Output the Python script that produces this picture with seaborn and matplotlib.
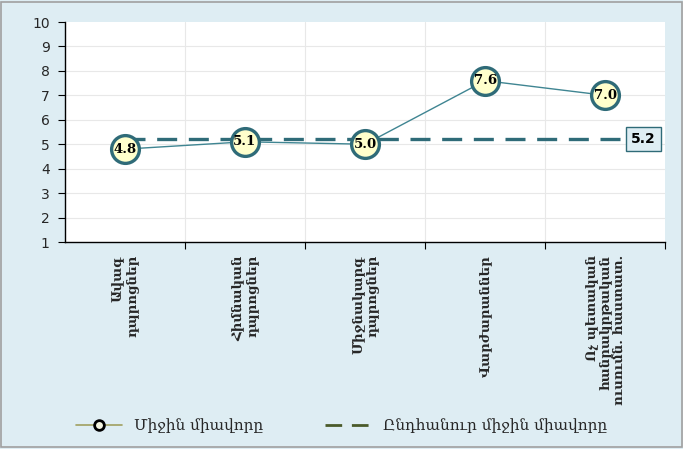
import pandas as pd
import matplotlib
matplotlib.use("Agg")
import matplotlib.pyplot as plt
import seaborn as sns

# --- Data ---
categories = [
    "Ավագ\nդպրոցներ",
    "Հիմնական\nդպրոցներ",
    "Միջնակարգ\nդպրոցներ",
    "Վարժարաններ",
    "Ոչ պետական\nհանրակրթական\nուսումն. հաստատ.",
]
mean_scores = [4.8, 5.1, 5.0, 7.6, 7.0]
overall_mean = 5.2
series_label = "Միջին միավորը"
overall_label = "Ընդհանուր միջին միավորը"

BG = "#deedf3"
TEAL = "#2f6b78"
LINE = "#3f8592"
FILL = "#ffffcc"
SERIF = ["DejaVu Serif"]


def generate_plot():
    sns.set_style("white")
    plt.rcParams["font.family"] = SERIF

    df = pd.DataFrame({"x": range(len(categories)), "score": mean_scores})

    fig = plt.figure(figsize=(6.83, 4.49), dpi=100, facecolor=BG)
    ax = fig.add_axes([0.095, 0.461, 0.879, 0.490])
    ax.set_facecolor("white")

    # vertical grid at category boundaries, horizontal grid on ticks
    for b in [0.5, 1.5, 2.5, 3.5]:
        ax.axvline(b, color="#e8e8e8", lw=0.8, zorder=0)
    for y in range(2, 10):
        ax.axhline(y, color="#e8e8e8", lw=0.8, zorder=0)

    # overall mean dashed line
    ax.plot([0.0, 4.2], [overall_mean, overall_mean], color=TEAL, lw=2.4,
            dashes=(6, 3.5), zorder=2)
    ax.text(4.32, overall_mean, f"{overall_mean:.1f}", ha="center", va="center",
            fontsize=10, fontweight="bold", color="black", zorder=5,
            family=["DejaVu Sans"],
            bbox=dict(boxstyle="square,pad=0.35", fc=BG, ec=TEAL, lw=1.0))

    sns.lineplot(data=df, x="x", y="score", ax=ax, color=LINE, lw=1.0,
                 marker="o", markersize=20, markerfacecolor=FILL,
                 markeredgecolor=TEAL, markeredgewidth=2.4, zorder=3)

    for xi, v in zip(df["x"], df["score"]):
        ax.text(xi, v, f"{v:.1f}", ha="center", va="center", fontsize=9.5,
                fontweight="bold", color="black", zorder=6)

    ax.set_xlim(-0.5, 4.5)
    ax.set_ylim(1, 10)
    ax.set_yticks(range(1, 11))
    ax.set_yticklabels([str(v) for v in range(1, 11)], family=["DejaVu Sans"])
    ax.set_xticks([0.5, 1.5, 2.5, 3.5, 4.5])
    ax.set_xticklabels([])
    ax.tick_params(axis="x", length=5, direction="out", color="black", width=0.8,
                   bottom=True)
    ax.tick_params(axis="y", length=5, direction="out", color="black", width=0.8,
                   labelsize=10, pad=6, left=True)
    ax.set_xlabel("")
    ax.set_ylabel("")

    for sp in ["top", "right"]:
        ax.spines[sp].set_visible(False)
    for sp in ["left", "bottom"]:
        ax.spines[sp].set_color("black")
        ax.spines[sp].set_linewidth(1.0)

    # rotated category labels
    for i, lab in enumerate(categories):
        ax.text(i, -0.06, lab, transform=ax.get_xaxis_transform(), rotation=90,
                ha="center", va="top", multialignment="right", fontsize=9.5,
                fontweight="bold", linespacing=1.1)

    # legend
    h1, = ax.plot([], [], color="#a0a060", lw=1.2, marker="o", markersize=7,
                  markerfacecolor="#f4f4e0", markeredgecolor="black",
                  markeredgewidth=2)
    h2, = ax.plot([], [], color="#4a5a2a", lw=2, dashes=(6, 3.5))
    fig.legend([h1, h2], [series_label, overall_label], loc="center",
               bbox_to_anchor=(0.5, 0.052), ncol=2, frameon=False, fontsize=11,
               handlelength=3, columnspacing=4)

    # outer border
    fig.patches.append(plt.Rectangle((0.002, 0.004), 0.996, 0.992,
                                     transform=fig.transFigure, fill=False,
                                     ec="#a0a0a0", lw=1.2))

    fig.savefig("out.png", dpi=100, facecolor=BG)
    plt.close(fig)


if __name__ == "__main__":
    generate_plot()
